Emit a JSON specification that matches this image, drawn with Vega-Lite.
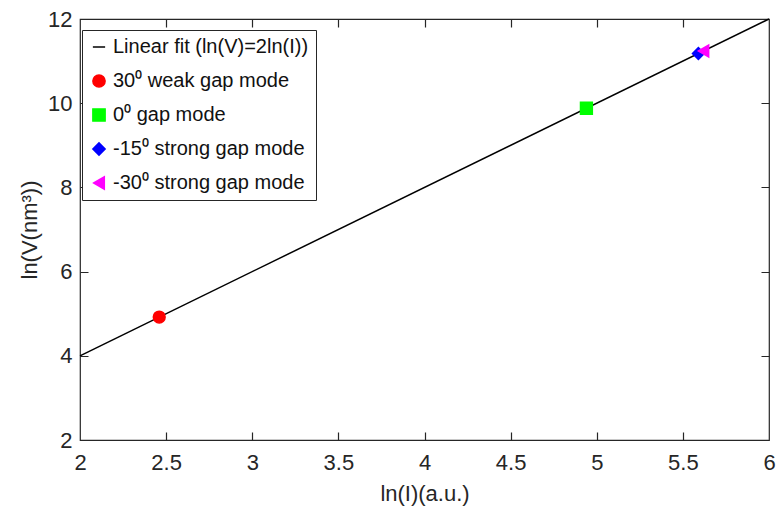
{
  "$schema": "https://vega.github.io/schema/vega-lite/v6.json",
  "width": 689,
  "height": 421,
  "autosize": {"type": "none"},
  "padding": {"left": 80, "top": 19, "right": 7, "bottom": 72},
  "background": "white",
  "config": {
    "view": {"stroke": "#262626", "strokeWidth": 1.2},
    "font": "Liberation Sans",
    "axis": {
      "grid": true,
      "zindex": 1,
      "gridColor": "#262626",
      "gridOpacity": 1,
      "gridWidth": 1.2,
      "ticks": false,
      "tickSize": 0,
      "domain": false,
      "labelFont": "Liberation Sans",
      "labelFontSize": 22,
      "labelColor": "#262626",
      "labelFlush": false,
      "labelOverlap": false,
      "titleFont": "Liberation Sans",
      "titleFontSize": 22,
      "titleFontWeight": "normal",
      "titleColor": "#262626"
    }
  },
  "datasets": {
    "fit": [
      {"lnI": 2, "lnV": 4},
      {"lnI": 6, "lnV": 12}
    ],
    "pts": [
      {"lnI": 2.46, "lnV": 4.92, "series": "30⁰ weak gap mode"},
      {"lnI": 4.94, "lnV": 9.88, "series": "0⁰  gap mode"},
      {"lnI": 5.59, "lnV": 11.18, "series": "-15⁰ strong gap mode"},
      {"lnI": 5.62, "lnV": 11.24, "series": "-30⁰ strong gap mode"}
    ]
  },
  "layer": [
    {
      "data": {"name": "fit"},
      "mark": {"type": "line", "color": "black", "strokeWidth": 1.5},
      "encoding": {
        "x": {"field": "lnI", "type": "quantitative", "scale": {"domain": [2, 6], "nice": false},
          "axis": {"values": [2.5, 3, 3.5, 4, 4.5, 5, 5.5], "format": "~g", "gridDash": [8, 405, 8, 10], "labelPadding": 12, "title": "ln(I)(a.u.)", "titlePadding": 10}},
        "y": {"field": "lnV", "type": "quantitative", "scale": {"domain": [2, 12], "nice": false},
          "axis": {"values": [4, 6, 8, 10], "gridDash": [8, 673, 8, 10], "labelPadding": 8, "title": "ln(V(nm³))", "titlePadding": 6}}
      }
    },
    {
      "data": {"name": "pts"},
      "mark": {"type": "point", "filled": false, "opacity": 1, "strokeWidth": 1.5, "size": 140},
      "encoding": {
        "x": {"field": "lnI", "type": "quantitative",
          "axis": {"orient": "bottom", "values": [2, 6], "format": "~g", "grid": false, "labelPadding": 12, "title": null}},
        "y": {"field": "lnV", "type": "quantitative",
          "axis": {"orient": "left", "values": [2, 12], "grid": false, "labelPadding": 8, "title": null}},
        "color": {
          "field": "series", "type": "nominal", "title": null,
          "scale": {
            "domain": ["Linear fit (ln(V)=2ln(I))", "30⁰ weak gap mode", "0⁰  gap mode", "-15⁰ strong gap mode", "-30⁰ strong gap mode"],
            "range": ["black", "#ff0000", "#00ff00", "#0000ff", "#ff00ff"]
          },
          "legend": {
            "title": null,
            "orient": "none",
            "legendX": 2,
            "legendY": 11,
            "zindex": 2,
            "strokeColor": "#262626",
            "fillColor": "white",
            "padding": 7,
            "labelFont": "Liberation Sans",
            "labelFontSize": 20,
            "labelColor": "#111111",
            "labelLimit": 400,
            "rowPadding": 14,
            "symbolSize": 150,
            "labelOffset": 4
          }
        },
        "fill": {
          "field": "series", "type": "nominal", "title": null,
          "scale": {
            "domain": ["Linear fit (ln(V)=2ln(I))", "30⁰ weak gap mode", "0⁰  gap mode", "-15⁰ strong gap mode", "-30⁰ strong gap mode"],
            "range": ["black", "#ff0000", "#00ff00", "#0000ff", "#ff00ff"]
          }
        },
        "shape": {
          "field": "series", "type": "nominal", "title": null,
          "scale": {
            "domain": ["Linear fit (ln(V)=2ln(I))", "30⁰ weak gap mode", "0⁰  gap mode", "-15⁰ strong gap mode", "-30⁰ strong gap mode"],
            "range": ["stroke", "circle", "square", "diamond", "triangle-left"]
          }
        }
      }
    }
  ],
  "resolve": {"axis": {"x": "independent", "y": "independent"}}
}
